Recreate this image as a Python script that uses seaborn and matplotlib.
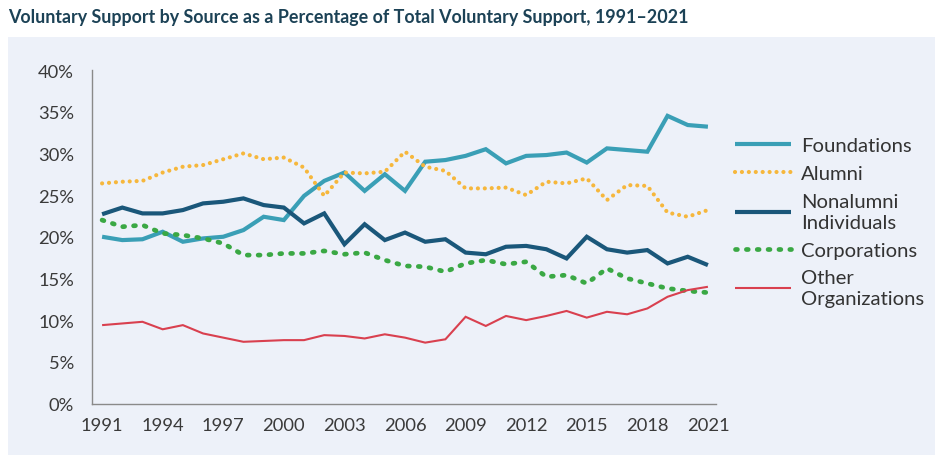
import matplotlib
matplotlib.use("Agg")
import matplotlib.pyplot as plt
from matplotlib.patches import Rectangle
from matplotlib.ticker import FuncFormatter
import seaborn as sns
import pandas as pd

years = list(range(1991, 2022))
foundations = [20.0, 19.6, 19.7, 20.6, 19.4, 19.8, 20.0, 20.8, 22.4, 22.0,
               24.9, 26.7, 27.7, 25.5, 27.5, 25.5, 29.0, 29.2, 29.7, 30.5,
               28.8, 29.7, 29.8, 30.1, 28.9, 30.6, 30.4, 30.2, 34.5, 33.4, 33.2]
alumni = [26.4, 26.6, 26.7, 27.7, 28.4, 28.6, 29.3, 30.0, 29.3, 29.5,
          28.3, 24.9, 27.7, 27.6, 27.8, 30.2, 28.4, 27.9, 25.8, 25.8,
          25.9, 25.0, 26.6, 26.4, 27.0, 24.4, 26.2, 26.1, 22.9, 22.4, 23.2]
nonalumni = [22.7, 23.5, 22.8, 22.8, 23.2, 24.0, 24.2, 24.6, 23.8, 23.5,
             21.6, 22.8, 19.1, 21.5, 19.6, 20.5, 19.4, 19.7, 18.1, 17.9,
             18.8, 18.9, 18.5, 17.4, 20.0, 18.5, 18.1, 18.4, 16.8, 17.6, 16.6]
corporations = [22.0, 21.2, 21.4, 20.4, 20.2, 19.8, 19.2, 17.8, 17.8, 18.0,
                18.0, 18.3, 17.9, 18.1, 17.2, 16.5, 16.4, 15.8, 16.8, 17.2,
                16.7, 17.0, 15.2, 15.4, 14.4, 16.2, 15.0, 14.4, 13.8, 13.5, 13.3]
other = [9.4, 9.6, 9.8, 8.9, 9.4, 8.4, 7.9, 7.4, 7.5, 7.6,
         7.6, 8.2, 8.1, 7.8, 8.3, 7.9, 7.3, 7.7, 10.4, 9.3,
         10.5, 10.0, 10.5, 11.1, 10.3, 11.0, 10.7, 11.4, 12.8, 13.6, 14.0]

series_names = ["Foundations", "Alumni", "Nonalumni\nIndividuals", "Corporations", "Other\nOrganizations"]
series_values = [foundations, alumni, nonalumni, corporations, other]
x_ticks = list(range(1991, 2022, 3))
y_ticks = list(range(0, 45, 5))

colors = {"Foundations": "#3a9fb6", "Alumni": "#f6b73c", "Nonalumni\nIndividuals": "#1a577a",
          "Corporations": "#3aa844", "Other\nOrganizations": "#d9404f"}
widths = {"Foundations": 3.0, "Alumni": 3.0, "Nonalumni\nIndividuals": 3.0,
          "Corporations": 3.4, "Other\nOrganizations": 1.5}
dash_map = {"Foundations": "", "Alumni": (0.01, 1.65), "Nonalumni\nIndividuals": "",
            "Corporations": (0.4, 1.9), "Other\nOrganizations": ""}

rows = []
for name, vals in zip(series_names, series_values):
    for y, v in zip(years, vals):
        rows.append({"Year": y, "Value": v, "Source": name})
df = pd.DataFrame(rows)

sns.set_theme(style="white")
plt.rcParams["font.family"] = ["Lato", "DejaVu Sans"]

fig = plt.figure(figsize=(9.35, 4.56), dpi=100, facecolor="white")
bg = "#edf1f9"
fig.patches.append(Rectangle((8 / 935, 0), 1 - 8 / 935, 1 - 38 / 456,
                             transform=fig.transFigure, facecolor=bg, edgecolor="none", zorder=-10))
ax = fig.add_axes([92 / 935, 1 - 404.5 / 456, (716 - 92) / 935, (404.5 - 71) / 456])
ax.set_facecolor("none")
ax.set_zorder(5)

sns.lineplot(data=df, x="Year", y="Value", hue="Source", style="Source", size="Source",
             palette=colors, dashes=dash_map, sizes=widths, hue_order=series_names,
             style_order=series_names, size_order=series_names, ax=ax, legend=False)

for line in ax.lines:
    line.set_solid_capstyle("butt")
    line.set_solid_joinstyle("miter")
    line.set_dash_capstyle("round")

ax.set_xlim(1990.5, 2021.4)
ax.set_ylim(0, 40)
ax.set_xticks(x_ticks)
ax.set_yticks(y_ticks)
ax.yaxis.set_major_formatter(FuncFormatter(lambda v, p: f"{int(v)}%"))
ax.tick_params(axis="both", length=0, labelsize=13.2, labelcolor="#3a3a3a")
ax.tick_params(axis="x", pad=10)
ax.tick_params(axis="y", pad=13)
ax.set_xlabel("")
ax.set_ylabel("")
for s in ["top", "right"]:
    ax.spines[s].set_visible(False)
for s in ["left", "bottom"]:
    ax.spines[s].set_color("#8a8a8a")
    ax.spines[s].set_linewidth(1.0)

handles = ax.lines[:len(series_names)]
leg = ax.legend(handles, series_names, loc="upper left", bbox_to_anchor=(735 / 935, 1 - 138 / 456),
                bbox_transform=fig.transFigure, frameon=False, fontsize=14.6,
                handlelength=2.75, handletextpad=0.5, labelspacing=0.53, borderaxespad=0,
                borderpad=0)
for t in leg.get_texts():
    t.set_color("#333333")
    t.set_linespacing(1.28)
for lh in leg.get_lines():
    lh.set_dash_capstyle("round")

fig.text(8 / 935, 1 - 18 / 456, "Voluntary Support by Source as a Percentage of Total Voluntary Support, 1991–2021",
         ha="left", va="center", fontsize=12.9, fontweight="bold", color="#1c4256")

fig.savefig("out.png", dpi=100, facecolor="white")
